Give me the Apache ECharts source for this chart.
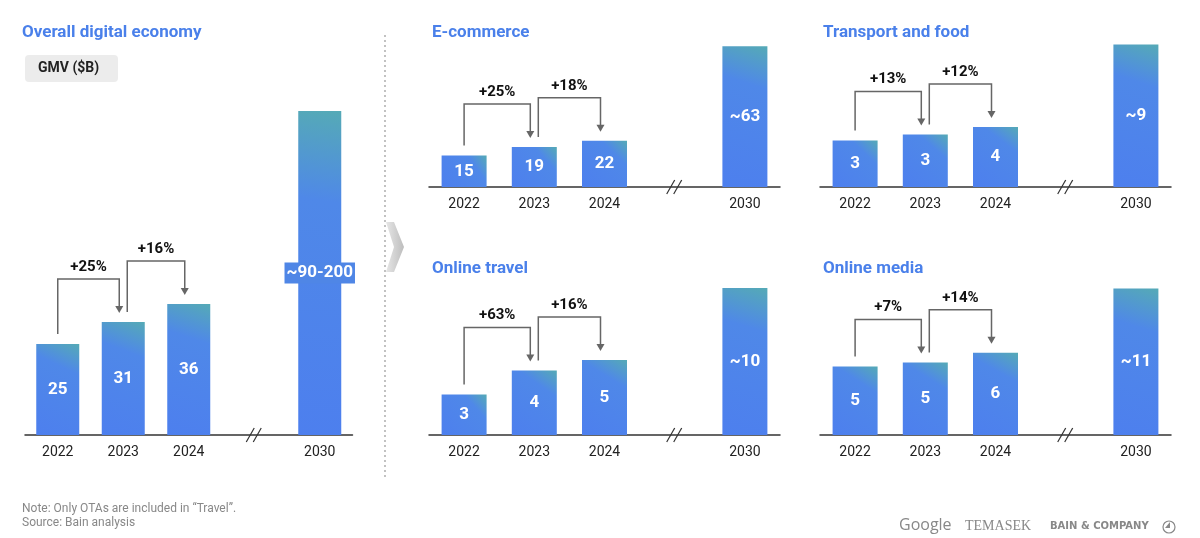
<!DOCTYPE html>
<html><head><meta charset="utf-8">
<script src="https://cdn.jsdelivr.net/npm/echarts@6/dist/echarts.min.js"></script>
<style>html,body{margin:0;padding:0;background:#fff}#c{width:1200px;height:538px}</style>
</head><body><div id="c"></div>
<script>
const categories = ['2022','2023','2024','','2030'];
const panelTitles = ['Overall digital economy','E-commerce','Transport and food','Online travel','Online media'];
// label values as printed
const labelsMain = ['25','31','36','','~90-200'];
const labelsEcom = ['15','19','22','','~63'];
const labelsTrans = ['3','3','4','','~9'];
const labelsTravel = ['3','4','5','','~10'];
const labelsMedia = ['5','5','6','','~11'];
// bar heights as drawn (2030 bar drawn with a broken axis)
const heightsMain = [25,31,36,null,89];
const heightsEcom = [15,19,22,null,67];
const heightsTrans = [3.1,3.5,4.0,null,9.5];
const heightsTravel = [2.7,4.3,5.0,null,9.8];
const heightsMedia = [5.0,5.3,6.0,null,10.7];
const growthMain = ['+25%','+16%'];
const growthEcom = ['+25%','+18%'];
const growthTrans = ['+13%','+12%'];
const growthTravel = ['+63%','+16%'];
const growthMedia = ['+7%','+14%'];

const panels = [
  {labels:labelsMain,h:heightsMain,g:growthMain,grid:{left:25,width:327.5,top:100,height:335},max:92,bw:43},
  {labels:labelsEcom,h:heightsEcom,g:growthEcom,grid:{left:429,width:351,top:40,height:147},max:70,bw:45},
  {labels:labelsTrans,h:heightsTrans,g:growthTrans,grid:{left:820,width:351,top:40,height:147},max:9.8,bw:45},
  {labels:labelsTravel,h:heightsTravel,g:growthTravel,grid:{left:429,width:351,top:285,height:150},max:10,bw:45},
  {labels:labelsMedia,h:heightsMedia,g:growthMedia,grid:{left:820,width:351,top:285,height:150},max:10.95,bw:45}
];
const FONT = 'Roboto, "Noto Sans", sans-serif';
const grad = () => new echarts.graphic.LinearGradient(0,1,1,0,[
  {offset:0,color:'#4d7fee'},{offset:0.72,color:'#4f88e8'},{offset:1,color:'#55aab6'}]);

const chart = echarts.init(document.getElementById('c'));
const option = {
  animation:false,
  textStyle:{fontFamily:FONT},
  grid: panels.map(p=>p.grid),
  xAxis: panels.map((p,i)=>({type:'category',gridIndex:i,data:categories,
    axisLine:{lineStyle:{color:'#333',width:1.5}},axisTick:{show:false},
    axisLabel:{color:'#222',fontSize:14,margin:10,fontFamily:FONT}})),
  yAxis: panels.map((p,i)=>({type:'value',gridIndex:i,min:0,max:p.max,show:false,splitLine:{show:false}})),
  series: panels.map((p,i)=>({type:'bar',xAxisIndex:i,yAxisIndex:i,barWidth:p.bw,
    data:p.h.map((v,k)=>({value:v,label:{formatter:p.labels[k]}})),
    itemStyle:{color:grad()},
    label:{show:true,position:'inside',color:'#fff',fontSize:17,fontWeight:'bold',fontFamily:FONT}}))
};
option.series[0].data[4].label = {formatter:labelsMain[4],backgroundColor:'#4f86e6',padding:[2,2]};
chart.setOption(option);

const g = [];
const titlePos = [[22,32],[432,32],[823,32],[432,268],[823,268]];
panelTitles.forEach((t,i)=>g.push({type:'text',left:titlePos[i][0],top:titlePos[i][1]-8,
  style:{text:t,fill:'#4a80ea',font:'bold 17px '+FONT}}));
g.push({type:'rect',shape:{x:25,y:55,width:93,height:27,r:4},style:{fill:'#ececec'}});
g.push({type:'text',left:38,top:61,style:{text:'GMV ($B)',fill:'#222',font:'bold 14px '+FONT}});
g.push({type:'line',shape:{x1:385,y1:35,x2:385,y2:480},style:{stroke:'#999',lineWidth:1.2,lineDash:[2,3]}});
g.push({type:'polygon',shape:{points:[[386,222],[394,222],[404,247],[394,272],[386,272],[394,247]]},
  style:{fill:new echarts.graphic.LinearGradient(0,0,1,0,[{offset:0,color:'#e6e6e6'},{offset:1,color:'#bdbdbd'}])}});
g.push({type:'text',left:22,top:503,style:{text:'Note: Only OTAs are included in \u201cTravel\u201d.',fill:'#888',font:'12px '+FONT}});
g.push({type:'text',left:22,top:517,style:{text:'Source: Bain analysis',fill:'#888',font:'12px '+FONT}});
g.push({type:'text',left:899,top:517,style:{text:'Google',fill:'#888',font:'16px "Open Sans", sans-serif'}});
g.push({type:'text',left:965,top:519,style:{text:'TEMASEK',fill:'#888',font:'14px "Liberation Serif", serif'}});
g.push({type:'text',left:1050,top:521,style:{text:'BAIN & COMPANY',fill:'#888',font:'bold 10px "DejaVu Sans", sans-serif'}});
g.push({type:'circle',shape:{cx:1169,cy:527,r:6},style:{fill:'none',stroke:'#888',lineWidth:1.2}});
g.push({type:'polygon',shape:{points:[[1170,522],[1170,528],[1165,528]]},style:{fill:'#888'}});

const stroke = '#666';
panels.forEach((p,i)=>{
  const px = (c,v)=>chart.convertToPixel({seriesIndex:i},[c,v]);
  const b = px(3,0);
  [-4,3].forEach(d=>g.push({type:'line',shape:{x1:b[0]+d-4,y1:b[1]+7,x2:b[0]+d+4,y2:b[1]-7},style:{stroke:'#333',lineWidth:1.2}}));
  for(let k=0;k<2;k++){
    const a = px(k,p.h[k]), n = px(k+1,p.h[k+1]);
    const x1 = a[0] + (k===0?0:4), x2 = n[0]-4;
    const yTop = n[1]-43, y1 = a[1]-10, y2 = n[1]-9;
    g.push({type:'polyline',shape:{points:[[x1,y1],[x1,yTop],[x2,yTop],[x2,y2-6]]},style:{stroke,lineWidth:1.5,fill:null}});
    g.push({type:'polygon',shape:{points:[[x2-4,y2-7],[x2+4,y2-7],[x2,y2]]},style:{fill:stroke}});
    g.push({type:'text',x:(x1+x2)/2,y:yTop-12,style:{text:p.g[k],fill:'#111',font:'bold 15px '+FONT,align:'center',verticalAlign:'middle'}});
  }
});
chart.setOption({graphic:g});
</script></body></html>
